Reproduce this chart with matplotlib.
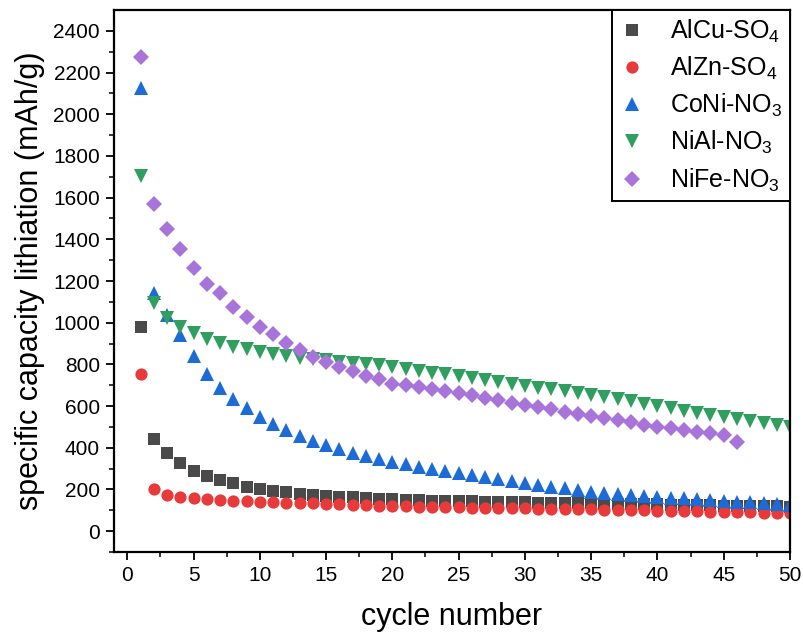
import matplotlib
matplotlib.use("Agg")
import matplotlib.pyplot as plt
import numpy as np

plt.rcParams['font.family'] = ['Liberation Sans', 'DejaVu Sans']
plt.rcParams['mathtext.fontset'] = 'custom'
plt.rcParams['mathtext.rm'] = 'Liberation Sans'
plt.rcParams['mathtext.it'] = 'Liberation Sans'

# cycle numbers
cycles = list(range(1, 51))
cycles_nife = list(range(1, 47))

# specific capacity (mAh/g) per cycle
alcu_so4 = [980, 440, 373, 328, 290, 264, 245, 229, 214, 202,
            193, 186, 180, 174, 169, 165, 162, 159, 156, 153,
            151, 149, 147, 146, 144, 143, 141, 140, 139, 138,
            137, 136, 135, 134, 133, 132, 131, 130, 129, 128,
            127, 126, 125, 124, 123, 122, 121, 120, 119, 118]
alzn_so4 = [752, 200, 173, 163, 157, 153, 149, 147, 144, 142,
            139, 137, 135, 133, 131, 129, 127, 125, 122, 120,
            119, 118, 117, 116, 115, 113, 112, 111, 110, 109,
            108, 107, 106, 105, 104, 103, 102, 101, 100, 99,
            97, 96, 95, 93, 92, 91, 90, 88, 87, 85]
coni_no3 = [2125, 1141, 1035, 941, 840, 752, 688, 632, 589, 549,
            514, 483, 457, 433, 412, 393, 377, 362, 347, 334,
            321, 309, 298, 287, 277, 267, 258, 249, 240, 231,
            222, 213, 205, 197, 189, 185, 180, 175, 170, 165,
            161, 157, 153, 149, 146, 142, 138, 134, 130, 126]
nial_no3 = [1705, 1093, 1021, 981, 949, 920, 901, 885, 872, 861,
            850, 841, 833, 825, 819, 813, 807, 801, 795, 788,
            779, 770, 761, 752, 743, 734, 725, 716, 707, 698,
            689, 680, 671, 662, 653, 643, 632, 622, 611, 600,
            589, 578, 567, 557, 546, 537, 528, 519, 510, 501]
nife_no3 = [2277, 1568, 1450, 1354, 1263, 1185, 1141, 1077, 1025, 978,
            944, 904, 869, 834, 813, 788, 768, 743, 728, 708,
            699, 690, 680, 670, 662, 651, 640, 628, 617, 606,
            595, 584, 573, 563, 553, 543, 532, 522, 511, 501,
            493, 485, 477, 469, 461, 429]

series = [
    ("AlCu-SO$_4$", cycles, alcu_so4, "s", "#4a4a4a", 8.0),
    ("AlZn-SO$_4$", cycles, alzn_so4, "o", "#e83a3a", 8.8),
    ("CoNi-NO$_3$", cycles, coni_no3, "^", "#1c6bd6", 10.0),
    ("NiAl-NO$_3$", cycles, nial_no3, "v", "#2f9e5f", 10.0),
    ("NiFe-NO$_3$", cycles_nife, nife_no3, "D", "#a874da", 7.8),
]

fig = plt.figure(figsize=(8.04, 6.38), dpi=100)
ax = fig.add_axes([0.1418, 0.1348, 0.8408, 0.8495])

for label, x, y, m, c, ms in series:
    ax.plot(x, y, linestyle="none", marker=m, color=c, markersize=ms,
            markeredgewidth=0, label=label)

ax.set_xlim(-1, 50)
ax.set_ylim(-100, 2500)
ax.set_xticks(np.arange(0, 51, 5))
ax.set_xticks(np.arange(2.5, 50, 5), minor=True)
ax.set_yticks(np.arange(0, 2401, 200))
ax.set_yticks(np.arange(-100, 2500, 200), minor=True)

for side in ax.spines.values():
    side.set_linewidth(1.6)
ax.tick_params(which="major", direction="out", length=6, width=1.3,
               labelsize=15, top=False, right=False, pad=4)
ax.tick_params(which="minor", direction="out", length=3.5, width=1.1,
               top=False, right=False)

ax.set_xlabel("cycle number", fontsize=22, labelpad=12)
ax.set_ylabel("specific capacity lithiation (mAh/g)", fontsize=22, labelpad=6)

leg = ax.legend(loc="upper right", borderaxespad=0, frameon=True,
                fancybox=False, edgecolor="black", framealpha=1,
                fontsize=18, numpoints=1, handlelength=1.0,
                handletextpad=1.0, labelspacing=0.4, borderpad=0.3)
leg.get_frame().set_linewidth(1.4)

fig.savefig("out.png", dpi=100)
